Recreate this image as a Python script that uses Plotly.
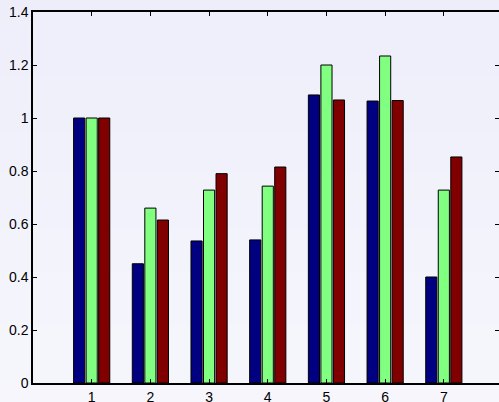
import plotly.graph_objects as go

categories = [1, 2, 3, 4, 5, 6, 7]
series_a = [1.0, 0.45, 0.536, 0.54, 1.087, 1.064, 0.40]
series_b = [1.0, 0.66, 0.728, 0.743, 1.20, 1.234, 0.728]
series_c = [1.0, 0.615, 0.79, 0.815, 1.068, 1.066, 0.853]
colors = ["#000080", "#80ff80", "#800000"]
y_ticks = [0, 0.2, 0.4, 0.6, 0.8, 1.0, 1.2, 1.4]
y_tick_text = ["0", "0.2", "0.4", "0.6", "0.8", "1", "1.2", "1.4"]

fig = go.Figure()
for vals, col in zip([series_a, series_b, series_c], colors):
    fig.add_trace(go.Bar(x=categories, y=vals, marker=dict(color=col, line=dict(color="black", width=1)),
                         showlegend=False))

# invisible trace to host right-side ticks
fig.add_trace(go.Scatter(x=[1], y=[0], yaxis="y2", mode="markers", marker=dict(opacity=0), showlegend=False, hoverinfo="skip"))

# gradient background
shapes = []
n = 30
top = (0xee, 0xee, 0xfb)
bot = (0xf6, 0xf6, 0xfc)
for i in range(n):
    t = i / (n - 1)
    c = tuple(round(top[k] + (bot[k] - top[k]) * t) for k in range(3))
    shapes.append(dict(type="rect", xref="paper", yref="paper", x0=-0.1, x1=1.1,
                       y1=1.05 - i * 1.12 / n, y0=1.05 - (i + 1) * 1.12 / n,
                       fillcolor="rgb(%d,%d,%d)" % c, line=dict(width=0), layer="below"))

font = dict(family="Liberation Sans, Arial, sans-serif", size=14, color="black")
fig.update_layout(
    width=499, height=402,
    margin=dict(l=33, r=0, t=12, b=19, autoexpand=False),
    paper_bgcolor="#f2f2fc", plot_bgcolor="rgba(0,0,0,0)",
    barmode="group", bargap=0.36, bargroupgap=0.11,
    font=font, shapes=shapes,
    xaxis=dict(range=[0, 7.94], tickvals=categories, ticktext=[str(c) for c in categories],
               showline=True, linecolor="black", linewidth=1.5, mirror="ticks",
               ticks="inside", ticklen=4, tickcolor="black", showgrid=False, zeroline=False,
               tickfont=font, automargin=False),
    yaxis=dict(range=[0, 1.4], tickvals=y_ticks, ticktext=y_tick_text,
               showline=True, linecolor="black", linewidth=1.5, mirror=False,
               ticks="inside", ticklen=4, tickcolor="black", showgrid=False, zeroline=False,
               tickfont=font, automargin=False),
    yaxis2=dict(range=[0, 1.4], tickvals=y_ticks, overlaying="y", side="right",
                showticklabels=False, ticks="inside", ticklen=4, tickcolor="black",
                showline=False, showgrid=False, zeroline=False, automargin=False),
)
fig.write_html("out.html")
